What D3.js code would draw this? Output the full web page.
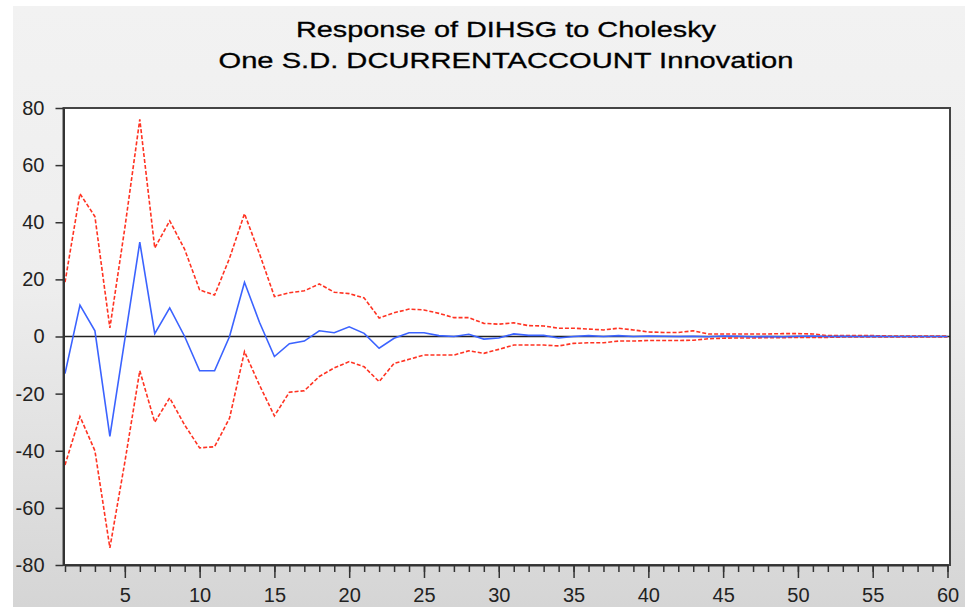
<!DOCTYPE html>
<head>
  <meta charset="utf-8">
  <script src="https://d3js.org/d3.v7.min.js"></script>
  <style>
    body { margin:0;position:fixed;top:0;right:0;bottom:0;left:0;background:#fff; }
    text { font-family: Arial, "Liberation Sans", sans-serif; }
  </style>
</head>

<body>
  <script>

    var width = 965,
        height = 607;

    // impulse response periods
    var periods = [1,2,3,4,5,6,7,8,9,10,11,12,13,14,15,16,17,18,19,20,
                   21,22,23,24,25,26,27,28,29,30,31,32,33,34,35,36,37,38,39,40,
                   41,42,43,44,45,46,47,48,49,50,51,52,53,54,55,56,57,58,59,60];

    var response = [-13, 11, 2, -35, -1, 33, 1, 10, 0, -12, -12, 0, 19, 5, -7, -2.5, -1.6, 2, 1.3, 3.4,
                    1.1, -4.1, -0.6, 1.3, 1.3, 0.3, 0, 0.8, -0.9, -0.5, 0.9, 0.4, 0.4, -0.5, 0, 0.3, 0, 0.3, 0, 0.2,
                    0.1, 0, 0.1, -0.1, 0.2, 0.1, -0.1, 0, -0.1, 0.1, 0.2, 0, 0.05, 0, 0.05, 0, 0, 0, 0, 0];

    var upperBand = [19, 50, 42, 3, 38, 76, 31, 40.5, 30.5, 16.3, 14.5, 27.4, 43, 29, 14, 15.3, 16, 18.4, 15.5, 15,
                     13.5, 6.5, 8.3, 9.6, 9.3, 8.1, 6.6, 6.6, 4.6, 4.3, 4.8, 3.8, 3.7, 2.9, 2.9, 2.6, 2.3, 2.9, 2.3, 1.6,
                     1.4, 1.4, 2.0, 0.9, 0.9, 0.9, 0.9, 0.9, 1.0, 1.0, 0.9, 0.3, 0.3, 0.3, 0.3, 0.2, 0.2, 0.2, 0.2, 0.2];

    var lowerBand = [-45, -28, -40, -74, -44, -12, -30, -21.5, -31, -39, -38.6, -28.6, -5.3, -17, -27.8, -19.5, -19, -14, -11, -8.8,
                     -10.6, -15.8, -9.4, -8, -6.5, -6.5, -6.5, -5, -5.9, -4.5, -3, -3, -3, -3.3, -2.4, -2.2, -2.2, -1.6, -1.6, -1.4,
                     -1.4, -1.4, -1.3, -0.8, -0.6, -0.5, -0.5, -0.4, -0.4, -0.3, -0.3, -0.3, -0.2, -0.2, -0.2, -0.2, -0.2, -0.2, -0.2, -0.2];

    var yTicks = [-80, -60, -40, -20, 0, 20, 40, 60, 80];
    var xMajor = [5, 10, 15, 20, 25, 30, 35, 40, 45, 50, 55, 60];
    var titleLines = ["Response of DIHSG to Cholesky", "One S.D. DCURRENTACCOUNT Innovation"];

    var svg = d3.select("body").append("svg")
      .attr("width", width)
      .attr("height", height);

    // background panel with soft vertical gradient
    var grad = svg.append("defs").append("linearGradient")
      .attr("id", "bg").attr("x1", 0).attr("y1", 0).attr("x2", 0).attr("y2", 1);
    grad.append("stop").attr("offset", "0%").attr("stop-color", "#f2f2f2");
    grad.append("stop").attr("offset", "45%").attr("stop-color", "#eeeeee");
    grad.append("stop").attr("offset", "100%").attr("stop-color", "#d5d5d5");

    svg.append("rect")
      .attr("x", 13).attr("y", 6)
      .attr("width", width - 13).attr("height", height - 6)
      .attr("fill", "url(#bg)");

    var x = d3.scaleLinear().domain([1, 60]).range([65, 947.5]);
    var y = d3.scaleLinear().domain([-80, 80]).range([565, 108]);

    // plot area
    svg.append("rect")
      .attr("x", 63.5).attr("y", 108)
      .attr("width", 950 - 63.5).attr("height", 565 - 108)
      .attr("fill", "#fff")
      .attr("stroke", "#444")
      .attr("stroke-width", 2);

    // title
    var widths = [420, 575];
    svg.selectAll("text.title").data(titleLines).enter()
      .append("text")
      .attr("class", "title")
      .attr("x", 506)
      .attr("y", function(d, i) { return 37 + i * 30.5 })
      .attr("text-anchor", "middle")
      .attr("font-size", 22)
      .attr("textLength", function(d, i) { return widths[i] })
      .attr("lengthAdjust", "spacingAndGlyphs")
      .attr("fill", "#000")
      .attr("stroke", "#000")
      .attr("stroke-width", 0.3)
      .text(function(d) { return d });

    // zero line
    svg.append("line")
      .attr("x1", 63.5).attr("x2", 950)
      .attr("y1", y(0)).attr("y2", y(0))
      .attr("stroke", "#222")
      .attr("stroke-width", 1.3);

    var line = d3.line()
      .x(function(d, i) { return x(periods[i]) })
      .y(function(d) { return y(d) });

    svg.append("path").datum(upperBand)
      .attr("d", line)
      .attr("fill", "none")
      .attr("stroke", "#ff3322")
      .attr("stroke-width", 1.6)
      .attr("stroke-dasharray", "4,2");

    svg.append("path").datum(lowerBand)
      .attr("d", line)
      .attr("fill", "none")
      .attr("stroke", "#ff3322")
      .attr("stroke-width", 1.6)
      .attr("stroke-dasharray", "4,2");

    svg.append("path").datum(response)
      .attr("d", line)
      .attr("fill", "none")
      .attr("stroke", "#3b63ff")
      .attr("stroke-width", 1.6);

    // plain hyphen minus, as in the original
    var plain = function(d) { return String(d) };

    // y axis
    var yAxis = d3.axisLeft(y)
      .tickValues(yTicks)
      .tickSize(8)
      .tickSizeOuter(0)
      .tickPadding(11)
      .tickFormat(plain);

    var gy = svg.append("g")
      .attr("transform", "translate(63.5,0)")
      .call(yAxis);
    gy.select(".domain").attr("stroke", "#333").attr("stroke-width", 2);
    gy.selectAll(".tick line").attr("stroke", "#333").attr("stroke-width", 1.5);
    gy.selectAll(".tick text").attr("font-size", 20).attr("fill", "#222")
      .attr("font-family", "Arial, 'Liberation Sans', sans-serif");

    // x axis: minor ticks every period, labelled major ticks every 5
    var gxMinor = svg.append("g")
      .attr("transform", "translate(0,565)")
      .call(d3.axisBottom(x).tickValues(periods).tickSize(7).tickSizeOuter(0).tickFormat(""));
    gxMinor.select(".domain").attr("stroke", "#333").attr("stroke-width", 2);
    gxMinor.selectAll(".tick line").attr("stroke", "#333").attr("stroke-width", 1.5);

    var gx = svg.append("g")
      .attr("transform", "translate(0,565)")
      .call(d3.axisBottom(x).tickValues(xMajor).tickSize(13).tickSizeOuter(0).tickPadding(10).tickFormat(plain));
    gx.select(".domain").remove();
    gx.selectAll(".tick line").attr("stroke", "#333").attr("stroke-width", 1.5);
    gx.selectAll(".tick text").attr("font-size", 20).attr("fill", "#222")
      .attr("font-family", "Arial, 'Liberation Sans', sans-serif");

  </script>
</body>
